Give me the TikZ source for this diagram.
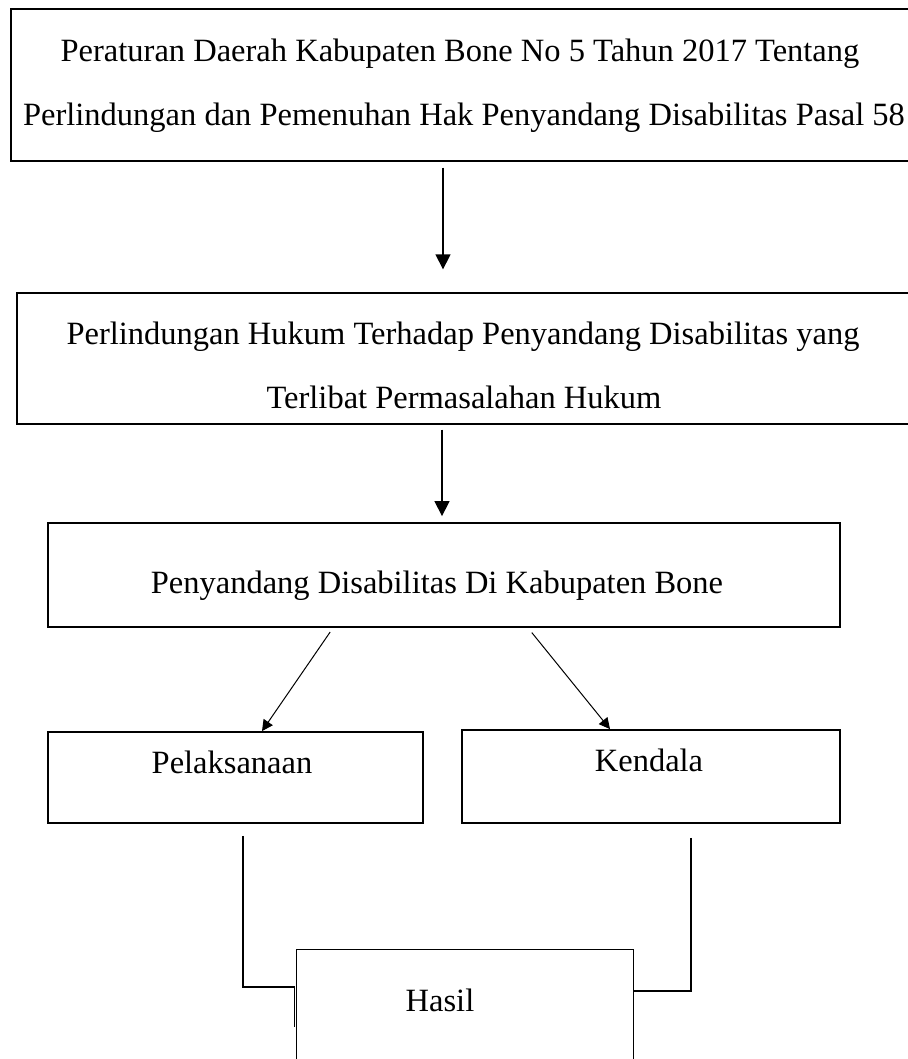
\documentclass[tikz,border=0pt]{standalone}
\usepackage{fontspec}
\setmainfont{Liberation Serif}
\usetikzlibrary{arrows.meta,calc}
\tikzset{
  boxthin/.style={draw=black, line width=1.3pt, inner sep=0pt, rectangle},
  boxmid/.style={draw=black, line width=1.8pt, inner sep=0pt, rectangle},
  boxhair/.style={draw=black, line width=1pt, inner sep=0pt, rectangle},
  lbl/.style={anchor=base, inner sep=0pt, font=\fontsize{32.5pt}{38pt}\selectfont},
  varr/.style={line width=1.3pt, -{Triangle[length=15pt,width=15pt]}},
  darr/.style={line width=1pt, -{Triangle[length=11pt,width=11pt]}},
  conn/.style={line width=1.8pt, line join=miter}
}
\begin{document}
\begin{tikzpicture}[x=1pt,y=-1pt]
\useasboundingbox (0,0) rectangle (907,1059);
% boxes
\node[boxthin, minimum width=899pt, minimum height=152pt] (b1) at (460.5,85) {};
\node[boxthin, minimum width=895pt, minimum height=131pt] (b2) at (464.5,358.5) {};
\node[boxmid, minimum width=792pt, minimum height=104pt] (b3) at (444,575) {};
\node[boxmid, minimum width=375pt, minimum height=91pt] (pel) at (235.5,777.5) {};
\node[boxmid, minimum width=378pt, minimum height=93pt] (ken) at (651,776.5) {};
\node[boxhair, minimum width=337pt, minimum height=160pt] (has) at (464.5,1029) {};
% texts
\node[lbl] (t1a) at (460,62) {Peraturan Daerah Kabupaten Bone No 5 Tahun 2017 Tentang};
\node[lbl] (t1b) at (464,126) {Perlindungan dan Pemenuhan Hak Penyandang Disabilitas Pasal 58};
\node[lbl] (t2a) at (463,344) {Perlindungan Hukum Terhadap Penyandang Disabilitas yang};
\node[lbl] (t2b) at (464,408) {Terlibat Permasalahan Hukum};
\node[lbl] (t3) at (437,593) {Penyandang Disabilitas Di Kabupaten Bone};
\node[lbl] (tp) at (232,773) {Pelaksanaan};
\node[lbl] (tk) at (649,771) {Kendala};
\node[lbl] (th) at (440,1011) {Hasil};
% helper coordinates
\coordinate (a1x) at (443,0);
\coordinate (a2x) at (442,0);
\coordinate (d1s) at (333,0);
\coordinate (d1e) at (262,0);
\coordinate (d2s) at (528,0);
\coordinate (d2e) at (610,0);
\coordinate (cl) at (243,987);
\coordinate (cr) at (691,991);
% arrows
\draw[varr, shorten <=6pt, shorten >=23pt] (b1.south -| a1x) -- (b2.north -| a1x);
\draw[varr, shorten <=5pt, shorten >=6pt] (b2.south -| a2x) -- (b3.north -| a2x);
\draw[darr, shorten <=5pt] (b3.south -| d1s) -- (pel.north -| d1e);
\draw[darr, shorten <=6pt] (b3.south -| d2s) -- (ken.north -| d2e);
% connectors to Hasil
\draw[conn] ([yshift=-12pt]pel.south -| cl) -- (cl) -- ([xshift=-1pt]has.west |- cl) -- ++(0,40);
\draw[conn] ([yshift=-14pt]ken.south -| cr) -- (cr) -- (has.east |- cr) -- ++(0,42);
\end{tikzpicture}
\end{document}
